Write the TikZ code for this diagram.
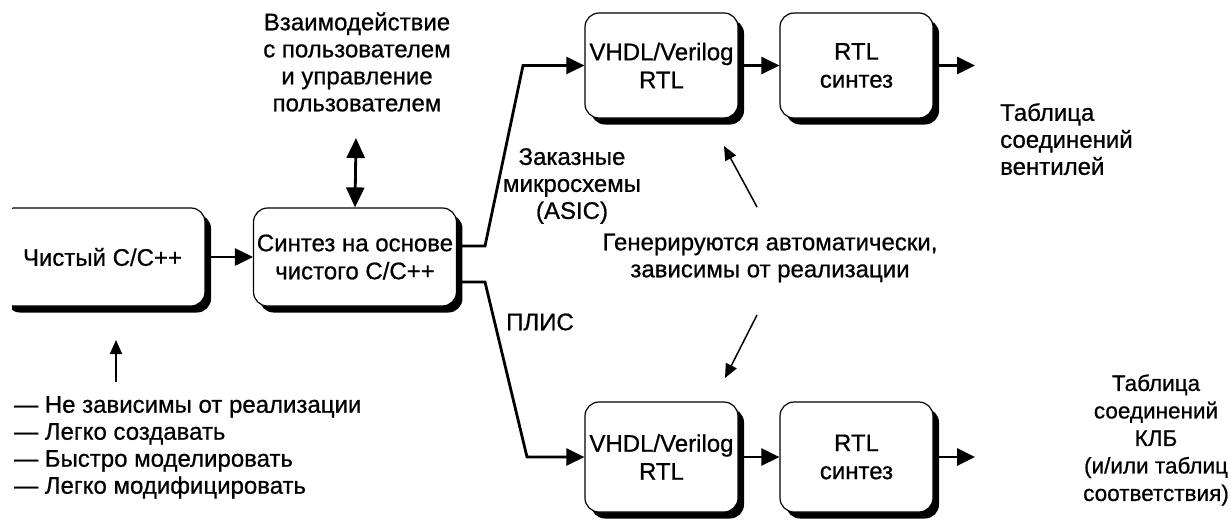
\documentclass[tikz,border=0pt]{standalone}
\usepackage{fontspec}
\setmainfont{Liberation Sans}[FakeBold=0.7]
\usetikzlibrary{arrows.meta,shadows}
\tikzset{
  box/.style={draw, line width=1.2pt, rounded corners=14pt, fill=white, align=center,
    font=\fontsize{24}{28}\selectfont,
    drop shadow={shadow xshift=6pt, shadow yshift=-6.5pt, opacity=1, fill=black}},
  lbl/.style={align=center, inner sep=0pt, font=\fontsize{24}{27}\selectfont},
  conn/.style={line width=2.8pt, -{Triangle[length=18pt,width=17pt]}},
  thin/.style={line width=1.5pt, -{Triangle[length=14pt,width=12pt]}},
}
\begin{document}
\begin{tikzpicture}[x=1pt,y=-1pt]
\useasboundingbox (0,0) rectangle (1231,525);
% boxes
\begin{scope}
\clip (12,150) rectangle (240,340);
\node[box, minimum width=205pt, minimum height=98pt] (b1) at (102.5,257) {Чистый C/C++};
\end{scope}
\node[box, minimum width=200pt, minimum height=98pt] (b2) at (355,257) {Синтез на основе\\чистого C/C++};
\node[box, minimum width=153pt, minimum height=105pt] (v1) at (661.5,65.5) {VHDL/Verilog\\RTL};
\node[box, minimum width=153pt, minimum height=105pt] (r1) at (856.5,65.5) {RTL\\синтез};
\node[box, minimum width=153pt, minimum height=110pt] (v2) at (661.5,457) {VHDL/Verilog\\RTL};
\node[box, minimum width=153pt, minimum height=110pt] (r2) at (856.5,457) {RTL\\синтез};
% labels
\node[lbl] (user) at (357,62) {Взаимодействие\\с пользователем\\и управление\\пользователем};
\node[lbl] (asic) at (572,186) {Заказные\\микросхемы\\(ASIC)};
\node[lbl] (plis) at (540,322) {ПЛИС};
\node[lbl] (gen) at (770,258) {Генерируются автоматически,\\зависимы от реализации};
\node[lbl, align=left, anchor=north west] (out1) at (1000,103) {Таблица\\соединений\\вентилей};
\node[lbl, font=\fontsize{22.5}{27.5}\selectfont] (out2) at (1156,440) {Таблица\\соединений\\КЛБ\\(и/или таблиц\\соответствия)};
\node[lbl, align=left, anchor=north west] (list) at (14,396) {— Не зависимы от реализации\\— Легко создавать\\— Быстро моделировать\\— Легко модифицировать};
% coordinates
\coordinate (ua) at (356,138);
\coordinate (t1) at (485,246);
\coordinate (t2) at (523,65.5);
\coordinate (d1) at (485,282);
\coordinate (d2) at (527,457);
\coordinate (o1) at (975,65.5);
\coordinate (o2) at (975,457);
\coordinate (g1) at (757,207);
\coordinate (g1t) at (724,146);
\coordinate (g2) at (757,315);
\coordinate (g2t) at (725,378);
\coordinate (la) at (116,382);
\coordinate (lat) at (116,340);
% connectors
\draw[line width=2.8pt, {Triangle[length=20pt,width=18pt]}-{Triangle[length=20pt,width=18pt]}] (ua) -- (b2.north);
\draw[conn] (b1) -- (b2);
\draw[conn] (b2.east |- t1) -- (t1) -- (t2) -- (v1.west);
\draw[conn] (b2.east |- d1) -- (d1) -- (d2) -- (v2.west);
\draw[conn] (v1) -- (r1);
\draw[conn] (v2) -- (r2);
\draw[conn] (r1.east) -- (o1);
\draw[conn] (r2.east) -- (o2);
\draw[thin] (g1) -- (g1t);
\draw[thin] (g2) -- (g2t);
\draw[thin] (la) -- (lat);
\end{tikzpicture}
\end{document}
